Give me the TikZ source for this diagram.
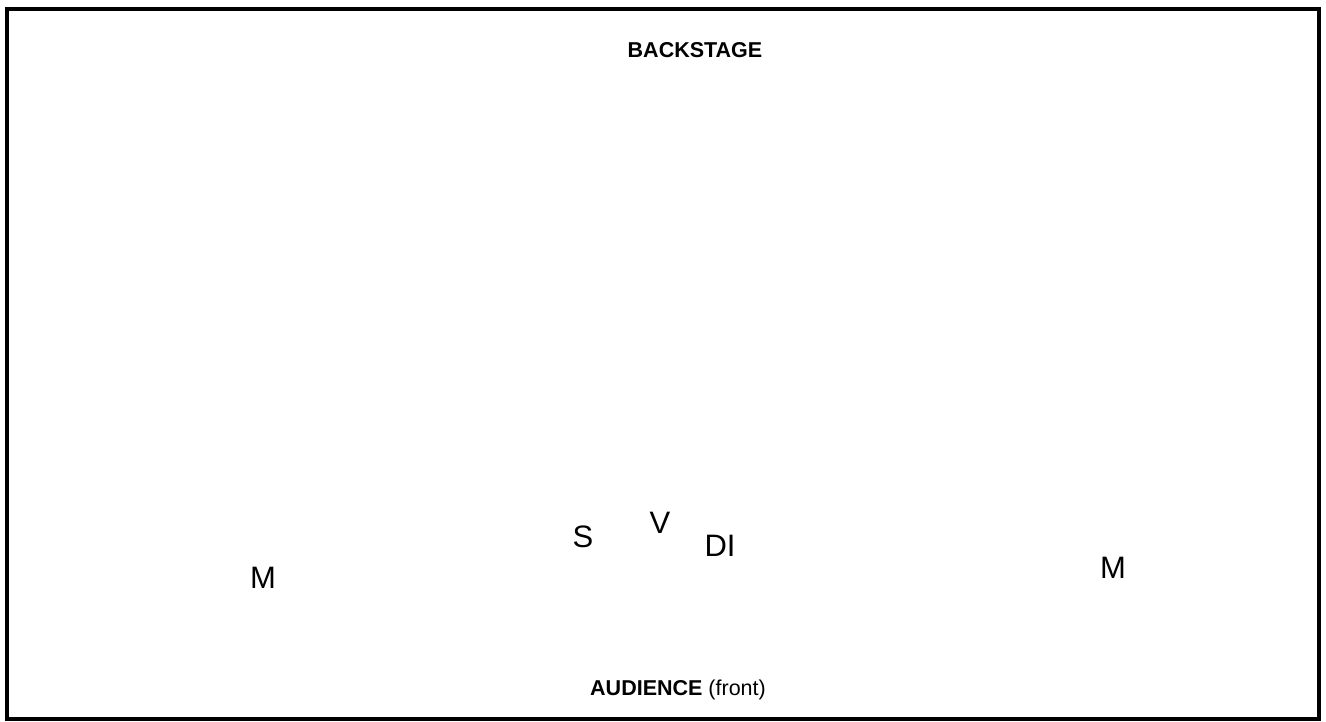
\documentclass[tikz,border=0pt]{standalone}
\usepackage{fontspec}
\setmainfont{Liberation Sans}
\usetikzlibrary{positioning}

\begin{document}
\begin{tikzpicture}[
  x=1pt, y=-1pt,
  player/.style={font=\fontsize{31}{36}\selectfont, inner sep=0pt, anchor=base},
  edge/.style={font=\fontsize{21.5}{25}\selectfont, inner sep=0pt, anchor=base},
  stage/.style={draw, line width=4pt}
]
\useasboundingbox (0,0) rectangle (1326,721);
\draw[stage] (7,9) rectangle (1319,719);

% labels for the two sides of the stage
\node[edge] (back) at (695,57) {\textbf{BACKSTAGE}};
\node[edge] (front) at (678,695) {\textbf{AUDIENCE} (front)};

% positions on stage
\node[player] (monl) at (263,588) {M};
\node[player] (sax) at (583,547) {S};
\node[player] (voc) at (660,533) {V};
\node[player] (di) at (720,556) {DI};
\node[player] (monr) at (1113,578) {M};
\end{tikzpicture}
\end{document}
